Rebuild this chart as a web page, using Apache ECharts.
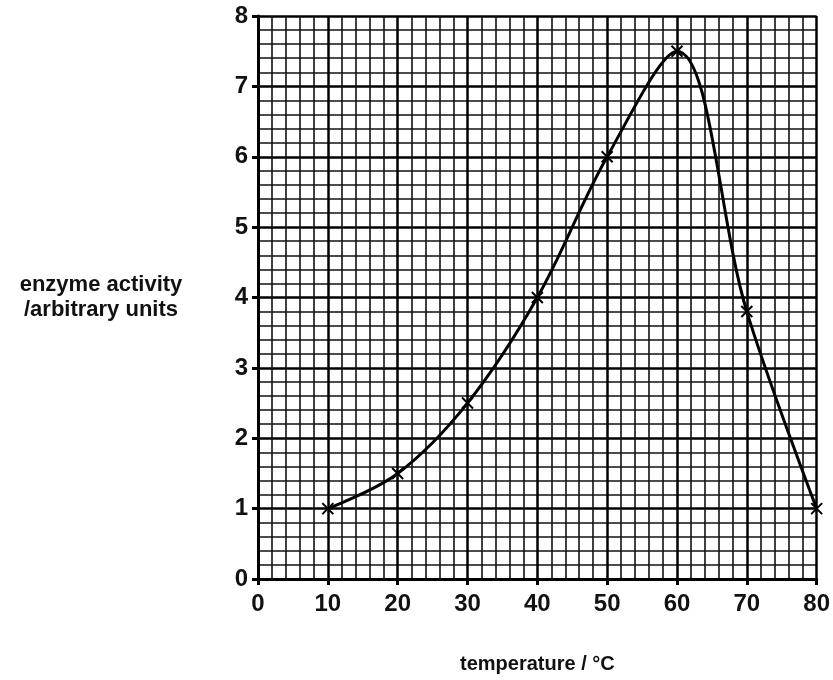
<!DOCTYPE html>
<html>
<head>
<meta charset="utf-8">
<title>enzyme activity</title>
<script src="https://cdn.jsdelivr.net/npm/echarts@6/dist/echarts.min.js"></script>
<style>
  html, body { margin: 0; padding: 0; background: #fff; }
  #chart { width: 833px; height: 680px; }
</style>
</head>
<body>
<div id="chart"></div>
<script>
// 数据
var temperature = [10, 20, 30, 40, 50, 60, 70, 80];
var activity = [1, 1.5, 2.5, 4, 6, 7.5, 3.8, 1];

var font = 'Liberation Sans, Arial, sans-serif';

function pairs(xs, ys) {
    var out = [];
    for (var i = 0; i < xs.length; i++) {
        out.push([xs[i], ys[i]]);
    }
    return out;
}

var myChart = echarts.init(document.getElementById('chart'));

var option = {
    backgroundColor: '#fff',
    animation: false,
    grid: { left: 258, top: 16, right: 16, bottom: 101 },
    xAxis: {
        type: 'value',
        min: 0,
        max: 80,
        interval: 10,
        name: 'temperature / °C',
        nameLocation: 'middle',
        nameGap: 75,
        nameTextStyle: { fontFamily: font, fontSize: 20, fontWeight: 'bold', color: '#111' },
        axisLine: { show: true, lineStyle: { color: '#000', width: 3 } },
        axisTick: { show: true, length: 6, lineStyle: { color: '#000', width: 3 } },
        axisLabel: { fontFamily: font, fontSize: 24, fontWeight: 'bold', color: '#111', margin: 13 },
        splitLine: { show: true, lineStyle: { color: '#000', width: 2.5 } },
        minorTick: { show: false, splitNumber: 5 },
        minorSplitLine: { show: true, lineStyle: { color: '#111', width: 1.6 } }
    },
    yAxis: {
        type: 'value',
        min: 0,
        max: 8,
        interval: 1,
        name: 'enzyme activity\n/arbitrary units',
        nameLocation: 'middle',
        nameRotate: 0,
        nameGap: 157,
        nameTextStyle: { fontFamily: font, fontSize: 22, fontWeight: 'bold', color: '#111', align: 'center', lineHeight: 25 },
        axisLine: { show: true, lineStyle: { color: '#000', width: 3 } },
        axisTick: { show: true, length: 6, lineStyle: { color: '#000', width: 3 } },
        axisLabel: { fontFamily: font, fontSize: 24, fontWeight: 'bold', color: '#111', margin: 10 },
        splitLine: { show: true, lineStyle: { color: '#000', width: 2.5 } },
        minorTick: { show: false, splitNumber: 5 },
        minorSplitLine: { show: true, lineStyle: { color: '#111', width: 1.6 } }
    },
    series: [{
        type: 'line',
        data: pairs(temperature, activity),
        smooth: 0.35,
        lineStyle: { color: '#000', width: 3 },
        symbol: 'path://M0,0L10,10M10,0L0,10',
        symbolSize: 11,
        itemStyle: { color: 'none', borderColor: '#000', borderWidth: 2 },
        z: 5
    }]
};

myChart.setOption(option);
window.onresize = myChart.resize;
</script>
</body>
</html>
